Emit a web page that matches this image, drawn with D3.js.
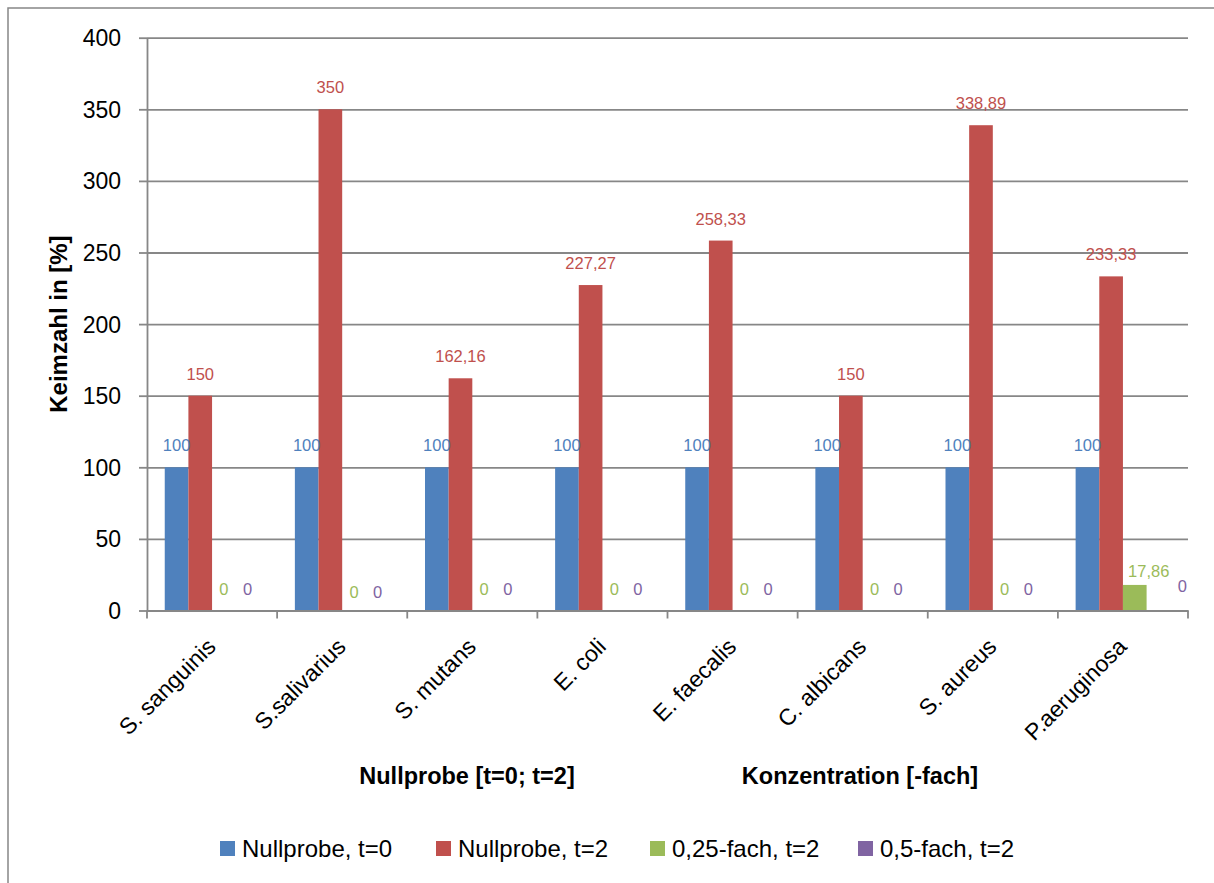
<!DOCTYPE html>
<html>
<head>
<meta charset="utf-8">
<script src="https://cdn.jsdelivr.net/npm/d3@7/dist/d3.min.js"></script>
<style>
  html, body { margin: 0; padding: 0; background: #fff; }
  svg { display: block; font-family: "Liberation Sans", Arial, sans-serif; }
</style>
</head>
<body>
<svg id="chart" width="1214" height="883"></svg>
<script>
// Bacteria tested
const categories = ["S. sanguinis", "S.salivarius", "S. mutans", "E. coli",
                    "E. faecalis", "C. albicans", "S. aureus", "P.aeruginosa"];

// Series names (legend)
const seriesNames = ["Nullprobe, t=0", "Nullprobe, t=2", "0,25-fach, t=2", "0,5-fach, t=2"];

// Germ count in % per series
const nullprobeT0 = [100, 100, 100, 100, 100, 100, 100, 100];
const nullprobeT2 = [150, 350, 162.16, 227.27, 258.33, 150, 338.89, 233.33];
const fach025T2   = [0, 0, 0, 0, 0, 0, 0, 17.86];
const fach05T2    = [0, 0, 0, 0, 0, 0, 0, 0];

// Y axis ticks
const yTicks = [0, 50, 100, 150, 200, 250, 300, 350, 400];

const seriesValues = [nullprobeT0, nullprobeT2, fach025T2, fach05T2];
const colors = ["#4F81BD", "#C0504D", "#9BBB59", "#8064A2"];

const svg = d3.select("#chart");
const gridColor = "#878787";

// Chart area frame
svg.append("rect")
  .attr("x", 8).attr("y", 8)
  .attr("width", 1240).attr("height", 900)
  .attr("fill", "none").attr("stroke", gridColor).attr("stroke-width", 1.5);

const plotLeft = 147, plotRight = 1188, plotTop = 37.7, plotBottom = 610.5;

const x = d3.scaleBand().domain(categories).range([plotLeft, plotRight]).padding(0);
const xs = d3.scaleBand().domain(seriesNames).range([0, x.bandwidth()])
  .paddingInner(0).paddingOuter(0.75);
const y = d3.scaleLinear().domain([0, 400]).range([plotBottom, plotTop]);

// Horizontal gridlines
svg.append("g")
  .attr("transform", `translate(${plotLeft},0)`)
  .call(d3.axisLeft(y).tickValues(yTicks).tickSize(-(plotRight - plotLeft)).tickFormat(""))
  .call(g => g.select(".domain").remove())
  .call(g => g.selectAll("line").attr("stroke", gridColor).attr("stroke-width", 1.8));

// Y axis with tick labels
svg.append("g")
  .attr("transform", `translate(${plotLeft},0)`)
  .call(d3.axisLeft(y).tickValues(yTicks).tickSize(8).tickPadding(18).tickSizeOuter(0))
  .call(g => g.select(".domain").attr("stroke", gridColor).attr("stroke-width", 1.8))
  .call(g => g.selectAll("line").attr("stroke", gridColor).attr("stroke-width", 1.8))
  .call(g => g.selectAll("text")
    .attr("font-family", "Liberation Sans, Arial, sans-serif")
    .attr("font-size", 23).attr("fill", "#000").attr("dy", "0.35em"));

// Bars
const groups = svg.append("g").selectAll("g")
  .data(categories)
  .join("g")
  .attr("transform", d => `translate(${x(d)},0)`);

groups.selectAll("rect")
  .data((c, i) => seriesNames.map((s, k) => ({ s, k, v: seriesValues[k][i] })))
  .join("rect")
  .attr("x", d => xs(d.s))
  .attr("width", xs.bandwidth())
  .attr("y", d => y(d.v))
  .attr("height", d => y(0) - y(d.v))
  .attr("fill", d => colors[d.k]);

// X axis line and category boundary ticks
svg.append("g")
  .attr("transform", `translate(0,${plotBottom})`)
  .call(d3.axisBottom(x).tickSize(0).tickFormat(""))
  .call(g => g.select(".domain").attr("stroke", gridColor).attr("stroke-width", 1.8))
  .call(g => g.selectAll(".tick").remove());

svg.append("g").selectAll("line")
  .data(categories.map(c => x(c)).concat([plotRight]))
  .join("line")
  .attr("x1", d => d).attr("x2", d => d)
  .attr("y1", plotBottom).attr("y2", plotBottom + 8)
  .attr("stroke", gridColor).attr("stroke-width", 1.8);

// Rotated category labels
svg.append("g").selectAll("text")
  .data(categories)
  .join("text")
  .attr("transform", d => `translate(${x(d) + x.bandwidth() / 2 + 5},648) rotate(-45)`)
  .attr("text-anchor", "end")
  .attr("font-size", 23)
  .attr("fill", "#000")
  .text(d => d);

// Data labels (German decimal comma)
const fmt = v => String(v).replace(".", ",");
// label nudges where neighbouring labels would collide
const nudge = (cat, k) => {
  if (cat === "P.aeruginosa" && k === 2) return [14, 8];
  if (cat === "P.aeruginosa" && k === 3) return [24, -3];
  if (cat === "S.salivarius" && k >= 2) return [0, 3];
  return [0, 0];
};

groups.selectAll("text.lbl")
  .data((c, i) => seriesNames.map((s, k) => ({ c, s, k, v: seriesValues[k][i] })))
  .join("text")
  .attr("class", "lbl")
  .attr("x", d => xs(d.s) + xs.bandwidth() / 2 + nudge(d.c, d.k)[0])
  .attr("y", d => y(d.v) - 16 + nudge(d.c, d.k)[1])
  .attr("text-anchor", "middle")
  .attr("font-size", 16.5)
  .attr("fill", d => colors[d.k])
  .text(d => fmt(d.v));

// Axis titles
svg.append("text")
  .attr("transform", `translate(67,${(plotTop + plotBottom) / 2}) rotate(-90)`)
  .attr("text-anchor", "middle")
  .attr("font-size", 24).attr("font-weight", "bold")
  .text("Keimzahl in [%]");

svg.append("text")
  .attr("x", 467).attr("y", 784)
  .attr("text-anchor", "middle")
  .attr("font-size", 23.5).attr("font-weight", "bold")
  .text("Nullprobe [t=0; t=2]");

svg.append("text")
  .attr("x", 860).attr("y", 784)
  .attr("text-anchor", "middle")
  .attr("font-size", 23.5).attr("font-weight", "bold")
  .text("Konzentration [-fach]");

// Legend
const legendX = [220, 436, 650, 858];
const legend = svg.append("g").selectAll("g")
  .data(seriesNames)
  .join("g")
  .attr("transform", (d, i) => `translate(${legendX[i]},0)`);

legend.append("rect")
  .attr("x", 0).attr("y", 841)
  .attr("width", 15).attr("height", 15)
  .attr("fill", (d, i) => colors[i]);

legend.append("text")
  .attr("x", 22).attr("y", 857)
  .attr("font-size", 24)
  .attr("fill", "#000")
  .text(d => d);
</script>
</body>
</html>
